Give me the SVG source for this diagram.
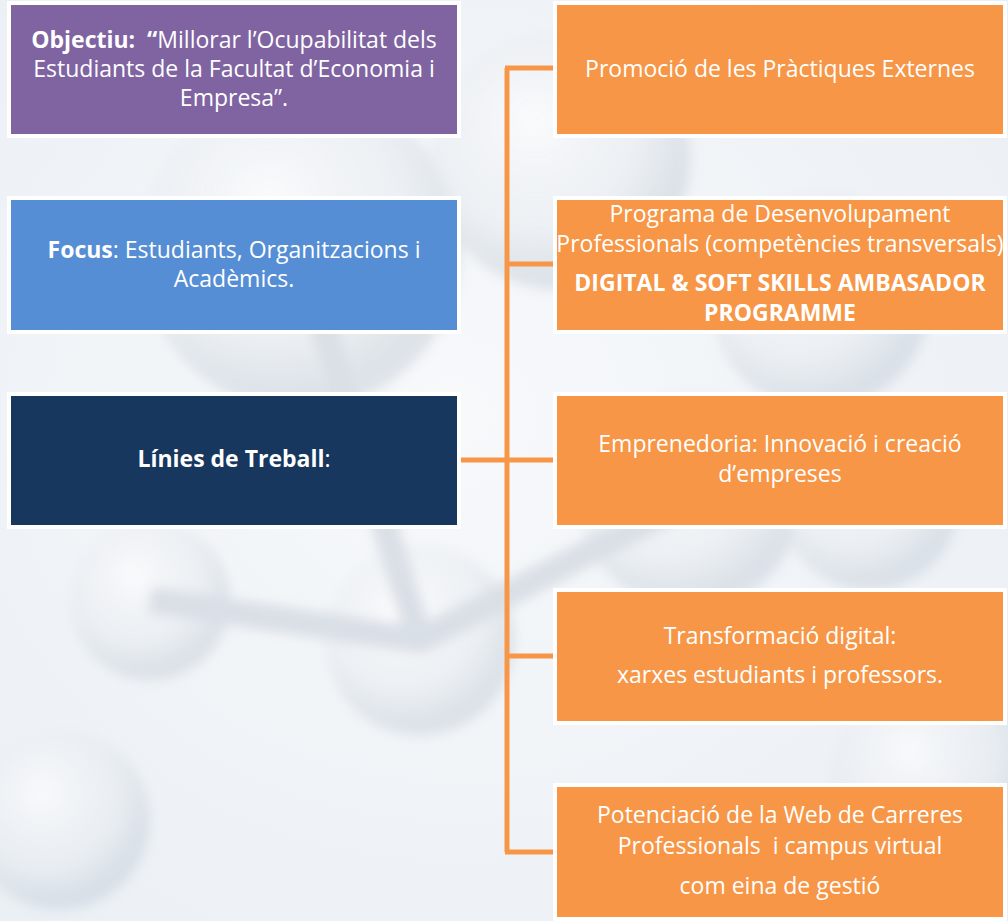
<svg xmlns="http://www.w3.org/2000/svg" width="1008" height="921" viewBox="0 0 1008 921">
<defs>
<radialGradient id="bg" cx="0.45" cy="0.45" r="0.75">
<stop offset="0" stop-color="#f7f9fb"/>
<stop offset="1" stop-color="#eaeff4"/>
</radialGradient>
<radialGradient id="ball" cx="0.4" cy="0.35" r="0.6">
<stop offset="0" stop-color="#ffffff" stop-opacity="0.9"/>
<stop offset="0.7" stop-color="#e3e8ee" stop-opacity="0.6"/>
<stop offset="1" stop-color="#bec8d2" stop-opacity="0.6"/>
</radialGradient>
<filter id="blur" x="-20%" y="-20%" width="140%" height="140%"><feGaussianBlur stdDeviation="6"/></filter>
<style>
.box{stroke:#ffffff;stroke-width:4}
.t{font-family:"Open Sans","Liberation Sans",Arial,sans-serif;font-size:23px;fill:#ffffff;text-anchor:middle;white-space:pre}
.b{font-weight:bold}
.conn{stroke:#F79646;stroke-width:5;fill:none}
</style>
</defs>
<rect width="1008" height="921" fill="url(#bg)"/>
<g id="background" filter="url(#blur)" opacity="0.7">
<circle cx="300" cy="250" r="160" fill="url(#ball)"/>
<circle cx="560" cy="160" r="130" fill="url(#ball)"/>
<circle cx="690" cy="500" r="110" fill="url(#ball)"/>
<circle cx="420" cy="640" r="95" fill="url(#ball)"/>
<circle cx="150" cy="600" r="80" fill="url(#ball)"/>
<circle cx="870" cy="500" r="90" fill="url(#ball)"/>
<circle cx="820" cy="300" r="110" fill="url(#ball)"/>
<circle cx="60" cy="820" r="90" fill="url(#ball)"/>
<circle cx="930" cy="780" r="100" fill="url(#ball)"/>
<path d="M150 600 L420 640 L690 500 M300 250 L420 640 M690 500 L870 500" stroke="#cfd6de" stroke-width="26" fill="none"/>
</g>
<g id="connectors">
<path class="conn" d="M507 68 V852"/>
<path class="conn" d="M505 68 H556"/>
<path class="conn" d="M507 264 H556"/>
<path class="conn" d="M461 460 H556"/>
<path class="conn" d="M507 656 H556"/>
<path class="conn" d="M505 852 H556"/>
</g>
<g id="objectiu">
<rect class="box" x="9" y="3" width="450" height="133" fill="#8064A2"/>
<text class="t" x="234" y="48"><tspan class="b">Objectiu:  “</tspan>Millorar l’Ocupabilitat dels</text>
<text class="t" x="234" y="77">Estudiants de la Facultat d’Economia i</text>
<text class="t" x="234" y="106">Empresa”.</text>
</g>
<g id="focus">
<rect class="box" x="9" y="198" width="450" height="134" fill="#558ED5"/>
<text class="t" x="234" y="258"><tspan class="b">Focus</tspan>: Estudiants, Organitzacions i</text>
<text class="t" x="234" y="287">Acadèmics.</text>
</g>
<g id="linies">
<rect class="box" x="9" y="394" width="450" height="133" fill="#17375E"/>
<text class="t" x="234" y="467"><tspan class="b">Línies de Treball</tspan>:</text>
</g>
<g id="practiques">
<rect class="box" x="555" y="3" width="450" height="133" fill="#F79646"/>
<text class="t" x="780" y="77">Promoció de les Pràctiques Externes</text>
</g>
<g id="programa">
<rect class="box" x="555" y="198" width="450" height="134" fill="#F79646"/>
<text class="t" x="780" y="222">Programa de Desenvolupament</text>
<text class="t" x="780" y="252">Professionals (competències transversals)</text>
<text class="t b" x="780" y="291">DIGITAL &amp; SOFT SKILLS AMBASADOR</text>
<text class="t b" x="780" y="321">PROGRAMME</text>
</g>
<g id="emprenedoria">
<rect class="box" x="555" y="394" width="450" height="133" fill="#F79646"/>
<text class="t" x="780" y="452">Emprenedoria: Innovació i creació</text>
<text class="t" x="780" y="482">d’empreses</text>
</g>
<g id="transformacio">
<rect class="box" x="555" y="590" width="450" height="133" fill="#F79646"/>
<text class="t" x="780" y="644">Transformació digital:</text>
<text class="t" x="780" y="683">xarxes estudiants i professors.</text>
</g>
<g id="web">
<rect class="box" x="555" y="785" width="450" height="134" fill="#F79646"/>
<text class="t" x="780" y="823">Potenciació de la Web de Carreres</text>
<text class="t" x="780" y="854">Professionals  i campus virtual</text>
<text class="t" x="780" y="894">com eina de gestió</text>
</g>
</svg>
